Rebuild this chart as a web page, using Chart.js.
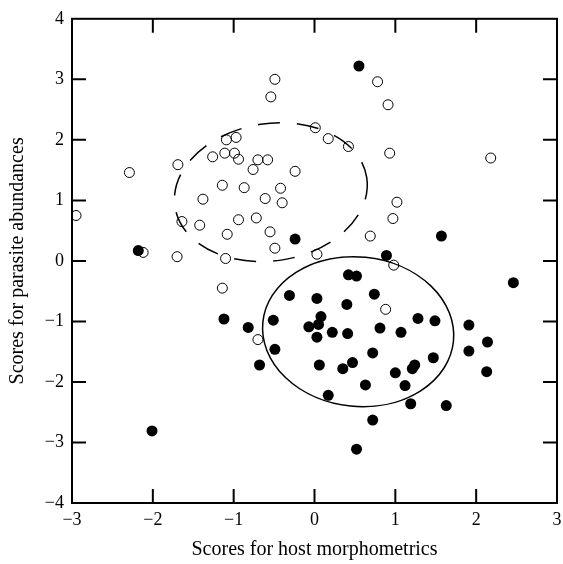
<!DOCTYPE html>
<html>
<head>
<meta charset="utf-8">
<script src="https://cdn.jsdelivr.net/npm/chart.js@4/dist/chart.umd.min.js"></script>
<style>
  html, body { margin: 0; padding: 0; background: #fff; }
  #wrap { width: 563px; height: 564px; position: relative; }
</style>
</head>
<body>
<div id="wrap"><canvas id="chart"></canvas></div>
<script>
// open circles
const openX = [-0.49, -0.54, -1.09, -0.97, -1.11, -0.99, -0.94, -1.26, -0.70, -0.58,
  -0.76, -1.69, -2.29, -0.24, -1.14, -0.87, -0.42, -1.38, -0.61, -0.40,
  -2.95, -1.64, -1.42, -0.94, -0.72, -1.08, -0.55, -0.49, -2.12, -1.70,
  -1.10, -1.14, -0.70, 0.78, 0.91, 0.01, 0.17, 0.42, 0.93, 2.18,
  1.02, 0.97, 0.69, 0.03, 0.98, 0.88];
const openY = [3.00, 2.71, 2.00, 2.04, 1.78, 1.78, 1.68, 1.72, 1.67, 1.67,
  1.51, 1.59, 1.46, 1.48, 1.25, 1.21, 1.20, 1.02, 1.03, 0.96,
  0.75, 0.65, 0.59, 0.68, 0.71, 0.44, 0.48, 0.21, 0.14, 0.07,
  0.04, -0.45, -1.30, 2.96, 2.58, 2.20, 2.02, 1.89, 1.78, 1.70,
  0.97, 0.70, 0.41, 0.11, -0.07, -0.80];

// filled circles
const filledX = [-2.18, -0.24, 0.55, 1.57, 0.89, -1.12, -0.82, -0.51, -0.31, -0.49,
  -0.68, -2.01, 0.42, 0.52, 2.46, 0.03, 0.40, 0.74, 0.08, -0.07,
  0.05, 0.03, 0.22, 0.41, 0.81, 1.07, 1.28, 1.49, 1.91, 2.14,
  1.91, 2.13, 0.06, 0.35, 0.47, 0.72, 1.00, 1.21, 1.24, 1.47,
  1.12, 0.63, 0.17, 1.19, 1.63, 0.72, 0.52];
const filledY = [0.17, 0.36, 3.22, 0.41, 0.09, -0.96, -1.10, -0.98, -0.57, -1.46,
  -1.72, -2.81, -0.23, -0.25, -0.36, -0.62, -0.72, -0.55, -0.92, -1.09,
  -1.05, -1.26, -1.18, -1.20, -1.11, -1.18, -0.95, -0.99, -1.06, -1.34,
  -1.49, -1.83, -1.72, -1.78, -1.68, -1.52, -1.85, -1.78, -1.72, -1.60,
  -2.06, -2.05, -2.22, -2.36, -2.39, -2.63, -3.11];

// ellipses: center, semi-axes (data units), tilt, dashed
const ellipseCx = [0.54, -0.54];
const ellipseCy = [-1.17, 1.135];
const ellipseAx = [1.185, 1.20];
const ellipseAy = [1.235, 1.135];
const ellipseTilt = [0.10, -0.15];
const ellipseDashed = [false, true];

const xTicks = [-3, -2, -1, 0, 1, 2, 3];
const yTicks = [-4, -3, -2, -1, 0, 1, 2, 3, 4];

const FONT = '"Liberation Serif", "DejaVu Serif", serif';
const minus = v => String(v).replace('-', '\u2212');

const framePlugin = {
  id: 'frame',
  afterDatasetsDraw(chart) {
    const { ctx, chartArea: a, scales: { x, y } } = chart;
    ctx.save();
    ctx.strokeStyle = '#000';

    // ellipses
    ctx.lineWidth = 1.5;
    for (let i = 0; i < ellipseCx.length; i++) {
      const cx = x.getPixelForValue(ellipseCx[i]);
      const cy = y.getPixelForValue(ellipseCy[i]);
      const rx = Math.abs(x.getPixelForValue(ellipseCx[i] + ellipseAx[i]) - cx);
      const ry = Math.abs(y.getPixelForValue(ellipseCy[i] + ellipseAy[i]) - cy);
      ctx.setLineDash(ellipseDashed[i] ? [22, 17] : []);
      ctx.beginPath();
      ctx.ellipse(cx, cy, rx, ry, ellipseTilt[i], 0, Math.PI * 2);
      ctx.stroke();
    }
    ctx.setLineDash([]);

    // frame + inward ticks on all sides
    ctx.lineWidth = 2;
    ctx.strokeRect(a.left, a.top, a.right - a.left, a.bottom - a.top);
    const len = 14;
    ctx.beginPath();
    xTicks.slice(1, -1).forEach(v => {
      const px = x.getPixelForValue(v);
      ctx.moveTo(px, a.bottom); ctx.lineTo(px, a.bottom - len);
      ctx.moveTo(px, a.top); ctx.lineTo(px, a.top + len);
    });
    yTicks.slice(1, -1).forEach(v => {
      const py = y.getPixelForValue(v);
      ctx.moveTo(a.left, py); ctx.lineTo(a.left + len, py);
      ctx.moveTo(a.right, py); ctx.lineTo(a.right - len, py);
    });
    ctx.stroke();
    ctx.restore();
  }
};

new Chart(document.getElementById('chart'), {
  type: 'scatter',
  data: {
    datasets: [
      {
        label: 'open',
        data: openX.map((v, i) => ({ x: v, y: openY[i] })),
        pointRadius: 5,
        pointBorderWidth: 1,
        borderColor: '#000',
        backgroundColor: 'rgba(0,0,0,0)',
      },
      {
        label: 'filled',
        data: filledX.map((v, i) => ({ x: v, y: filledY[i] })),
        pointRadius: 5.5,
        pointBorderWidth: 0,
        borderColor: '#000',
        backgroundColor: '#000',
      },
    ]
  },
  options: {
    responsive: true,
    maintainAspectRatio: false,
    animation: false,
    layout: { padding: { top: 17, right: 3, left: 0, bottom: 0 } },
    plugins: {
      legend: { display: false },
      tooltip: { enabled: false },
    },
    scales: {
      x: {
        type: 'linear',
        min: -3, max: 3,
        afterFit: s => { s.height = 61; s.paddingRight = 0; s.paddingLeft = 0; },
        afterBuildTicks: s => { s.ticks = xTicks.map(v => ({ value: v })); },
        grid: { display: false, drawTicks: false },
        border: { display: false },
        ticks: {
          color: '#000',
          font: { family: FONT, size: 18 },
          padding: 6,
          maxRotation: 0,
          callback: v => minus(v),
        },
        title: {
          display: true,
          text: 'Scores for host morphometrics',
          color: '#000',
          font: { family: FONT, size: 20 },
          padding: { bottom: 2 },
        },
      },
      y: {
        type: 'linear',
        min: -4, max: 4,
        afterFit: s => { s.width = 72; },
        afterBuildTicks: s => { s.ticks = yTicks.map(v => ({ value: v })); },
        grid: { display: false, drawTicks: false },
        border: { display: false },
        ticks: {
          color: '#000',
          font: { family: FONT, size: 18 },
          padding: 8,
          callback: v => minus(v),
        },
        title: {
          display: true,
          text: 'Scores for parasite abundances',
          color: '#000',
          font: { family: FONT, size: 20 },
          padding: { top: 6 },
        },
      },
    },
  },
  plugins: [framePlugin],
});
</script>
</body>
</html>
